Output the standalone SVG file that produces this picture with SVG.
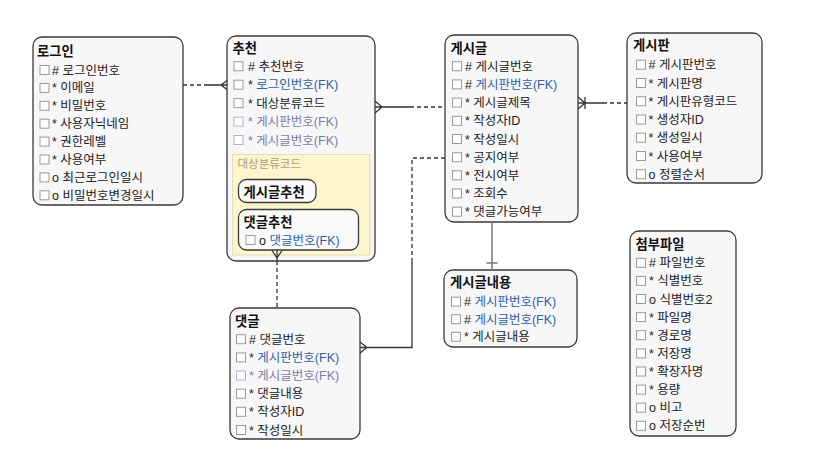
<svg xmlns="http://www.w3.org/2000/svg" xmlns:xlink="http://www.w3.org/1999/xlink" width="831" height="460" viewBox="0 0 831 460">
<defs>
<style>
text{font-family:"Liberation Sans","Noto Sans CJK KR",sans-serif;}
.box{fill:#f7f7f7;stroke:#3a3a3a;stroke-width:1.3;}
.t{font-size:13.3px;font-weight:bold;fill:#111;}
.r{font-size:12.5px;fill:#222;}
.fk{fill:#2f5fa8;}
.mu{fill:#7f7aa8;}
.cb{fill:#fff;stroke:#9a9a9a;stroke-width:1;}
.cbm{fill:#fff;stroke:#b4b2c8;stroke-width:1;}
.sub{fill:#fdf5cc;stroke:#e2dcc0;stroke-width:1;}
.sl{font-size:11.5px;fill:#a89f80;}
.inner{fill:#fafafa;stroke:#3a3a3a;stroke-width:1.3;}
.ln{fill:none;stroke:#333;stroke-width:1.3;}
.dl{fill:none;stroke:#333;stroke-width:1.3;stroke-dasharray:4 3;}
.gl{fill:none;stroke:#777;stroke-width:1.5;}
</style>
<rect id="cb" width="9" height="9"/>
</defs>

<g id="login">
<rect class="box" x="33" y="37" width="150" height="168" rx="9"/>
<text class="t" x="37" y="55.5">로그인</text>
<use xlink:href="#cb" class="cb" x="40" y="65.5"/><text class="r" x="52" y="74.5"># 로그인번호</text>
<use xlink:href="#cb" class="cb" x="40" y="83.4"/><text class="r" x="52" y="92.4">* 이메일</text>
<use xlink:href="#cb" class="cb" x="40" y="101.3"/><text class="r" x="52" y="110.3">* 비밀번호</text>
<use xlink:href="#cb" class="cb" x="40" y="119.2"/><text class="r" x="52" y="128.2">* 사용자닉네임</text>
<use xlink:href="#cb" class="cb" x="40" y="137.1"/><text class="r" x="52" y="146.1">* 권한레벨</text>
<use xlink:href="#cb" class="cb" x="40" y="155"/><text class="r" x="52" y="164">* 사용여부</text>
<use xlink:href="#cb" class="cb" x="40" y="172.9"/><text class="r" x="52" y="181.9">o 최근로그인일시</text>
<use xlink:href="#cb" class="cb" x="40" y="190.8"/><text class="r" x="52" y="199.8">o 비밀번호변경일시</text>
</g>

<g id="recommend">
<rect class="box" x="227" y="36" width="148" height="225" rx="9"/>
<text class="t" x="232.5" y="52.5">추천</text>
<use xlink:href="#cb" class="cb" x="234" y="61.7"/><text class="r" x="248" y="70.7"># 추천번호</text>
<use xlink:href="#cb" class="cb" x="234" y="80.2"/><text class="r" x="248" y="89.2">* <tspan class="fk">로그인번호(FK)</tspan></text>
<use xlink:href="#cb" class="cb" x="234" y="98.6"/><text class="r" x="248" y="107.6">* 대상분류코드</text>
<use xlink:href="#cb" class="cbm" x="234" y="117.1"/><text class="r mu" x="248" y="126.1">* 게시판번호(FK)</text>
<use xlink:href="#cb" class="cbm" x="234" y="135.5"/><text class="r mu" x="248" y="144.5">* 게시글번호(FK)</text>
<rect class="sub" x="232.5" y="154.5" width="137.5" height="100.5"/>
<text class="sl" x="237.5" y="167.5">대상분류코드</text>
<g id="sub-post">
<rect class="inner" x="238.5" y="179.5" width="77.5" height="23" rx="8"/>
<text class="t" x="243.5" y="197">게시글추천</text>
</g>
<g id="sub-comment">
<rect class="inner" x="238.5" y="209.5" width="120" height="40.5" rx="8"/>
<text class="t" x="243.5" y="227">댓글추천</text>
<use xlink:href="#cb" class="cb" x="246" y="235.5"/><text class="r" x="259" y="244.5">o <tspan class="fk">댓글번호(FK)</tspan></text>
</g>
</g>

<g id="post">
<rect class="box" x="445" y="35" width="133" height="187" rx="9"/>
<text class="t" x="450.5" y="53">게시글</text>
<use xlink:href="#cb" class="cb" x="452.5" y="61.7"/><text class="r" x="465" y="70.7"># 게시글번호</text>
<use xlink:href="#cb" class="cb" x="452.5" y="79.9"/><text class="r" x="465" y="88.9"># <tspan class="fk">게시판번호(FK)</tspan></text>
<use xlink:href="#cb" class="cb" x="452.5" y="98.1"/><text class="r" x="465" y="107.1">* 게시글제목</text>
<use xlink:href="#cb" class="cb" x="452.5" y="116.3"/><text class="r" x="465" y="125.3">* 작성자ID</text>
<use xlink:href="#cb" class="cb" x="452.5" y="134.5"/><text class="r" x="465" y="143.5">* 작성일시</text>
<use xlink:href="#cb" class="cb" x="452.5" y="152.7"/><text class="r" x="465" y="161.7">* 공지여부</text>
<use xlink:href="#cb" class="cb" x="452.5" y="170.8"/><text class="r" x="465" y="179.8">* 전시여부</text>
<use xlink:href="#cb" class="cb" x="452.5" y="189"/><text class="r" x="465" y="198">* 조회수</text>
<use xlink:href="#cb" class="cb" x="452.5" y="207.2"/><text class="r" x="465" y="216.2">* 댓글가능여부</text>
</g>

<g id="board">
<rect class="box" x="627" y="33" width="135" height="150" rx="9"/>
<text class="t" x="633" y="50">게시판</text>
<use xlink:href="#cb" class="cb" x="636.5" y="60.2"/><text class="r" x="648.5" y="69.2"># 게시판번호</text>
<use xlink:href="#cb" class="cb" x="636.5" y="78.5"/><text class="r" x="648.5" y="87.5">* 게시판명</text>
<use xlink:href="#cb" class="cb" x="636.5" y="96.7"/><text class="r" x="648.5" y="105.7">* 게시판유형코드</text>
<use xlink:href="#cb" class="cb" x="636.5" y="115"/><text class="r" x="648.5" y="124">* 생성자ID</text>
<use xlink:href="#cb" class="cb" x="636.5" y="133.2"/><text class="r" x="648.5" y="142.2">* 생성일시</text>
<use xlink:href="#cb" class="cb" x="636.5" y="151.5"/><text class="r" x="648.5" y="160.5">* 사용여부</text>
<use xlink:href="#cb" class="cb" x="636.5" y="169.7"/><text class="r" x="648.5" y="178.7">o 정렬순서</text>
</g>

<g id="post-content">
<rect class="box" x="444" y="270" width="133" height="77" rx="9"/>
<text class="t" x="450" y="287">게시글내용</text>
<use xlink:href="#cb" class="cb" x="451.5" y="297.2"/><text class="r" x="464" y="306.2"># <tspan class="fk">게시판번호(FK)</tspan></text>
<use xlink:href="#cb" class="cb" x="451.5" y="314.7"/><text class="r" x="464" y="323.7"># <tspan class="fk">게시글번호(FK)</tspan></text>
<use xlink:href="#cb" class="cb" x="451.5" y="332.3"/><text class="r" x="464" y="341.3">* 게시글내용</text>
</g>

<g id="attachment">
<rect class="box" x="630" y="231" width="106" height="205" rx="9"/>
<text class="t" x="635.5" y="249">첨부파일</text>
<use xlink:href="#cb" class="cb" x="636.5" y="258.3"/><text class="r" x="649" y="267.3"># 파일번호</text>
<use xlink:href="#cb" class="cb" x="636.5" y="276.4"/><text class="r" x="649" y="285.4">* 식별번호</text>
<use xlink:href="#cb" class="cb" x="636.5" y="294.5"/><text class="r" x="649" y="303.5">o 식별번호2</text>
<use xlink:href="#cb" class="cb" x="636.5" y="312.6"/><text class="r" x="649" y="321.6">* 파일명</text>
<use xlink:href="#cb" class="cb" x="636.5" y="330.7"/><text class="r" x="649" y="339.7">* 경로명</text>
<use xlink:href="#cb" class="cb" x="636.5" y="348.9"/><text class="r" x="649" y="357.9">* 저장명</text>
<use xlink:href="#cb" class="cb" x="636.5" y="367"/><text class="r" x="649" y="376">* 확장자명</text>
<use xlink:href="#cb" class="cb" x="636.5" y="385.1"/><text class="r" x="649" y="394.1">* 용량</text>
<use xlink:href="#cb" class="cb" x="636.5" y="403.2"/><text class="r" x="649" y="412.2">o 비고</text>
<use xlink:href="#cb" class="cb" x="636.5" y="421.3"/><text class="r" x="649" y="430.3">o 저장순번</text>
</g>

<g id="comment">
<rect class="box" x="230" y="308" width="130" height="131" rx="9"/>
<text class="t" x="235" y="326">댓글</text>
<use xlink:href="#cb" class="cb" x="236.5" y="334.7"/><text class="r" x="249" y="343.7"># 댓글번호</text>
<use xlink:href="#cb" class="cb" x="236.5" y="352.9"/><text class="r" x="249" y="361.9">* <tspan class="fk">게시판번호(FK)</tspan></text>
<use xlink:href="#cb" class="cbm" x="236.5" y="371"/><text class="r mu" x="249" y="380">* 게시글번호(FK)</text>
<use xlink:href="#cb" class="cb" x="236.5" y="389.2"/><text class="r" x="249" y="398.2">* 댓글내용</text>
<use xlink:href="#cb" class="cb" x="236.5" y="407.3"/><text class="r" x="249" y="416.3">* 작성자ID</text>
<use xlink:href="#cb" class="cb" x="236.5" y="425.5"/><text class="r" x="249" y="434.5">* 작성일시</text>
</g>

<g id="connectors">
<path class="dl" d="M183,85 H205"/>
<path class="ln" d="M205,85 H227 M221,85 L227,80.5 M221,85 L227,89.5"/>
<path class="ln" d="M375,107 H410 M382,107 L375,101 M382,107 L375,113"/>
<path class="dl" d="M410,107 H445"/>
<path class="ln" d="M578,103 H603 M585,103 L578,97 M585,103 L578,109 M585,97 V109"/>
<path class="dl" d="M603,103 H627"/>
<path class="dl" d="M445,158 H412 V262"/>
<path class="ln" d="M412,262 V347.5 H360 M367,347.5 L360,342 M367,347.5 L360,353"/>
<path class="gl" d="M492,222 V270 M486.5,263 H497.5"/>
<path class="dl" d="M277,261 V308"/>
<path class="ln" d="M277,258 L272,250.5 M277,258 L282,250.5 M277,250.5 V261"/>
</g>
</svg>
